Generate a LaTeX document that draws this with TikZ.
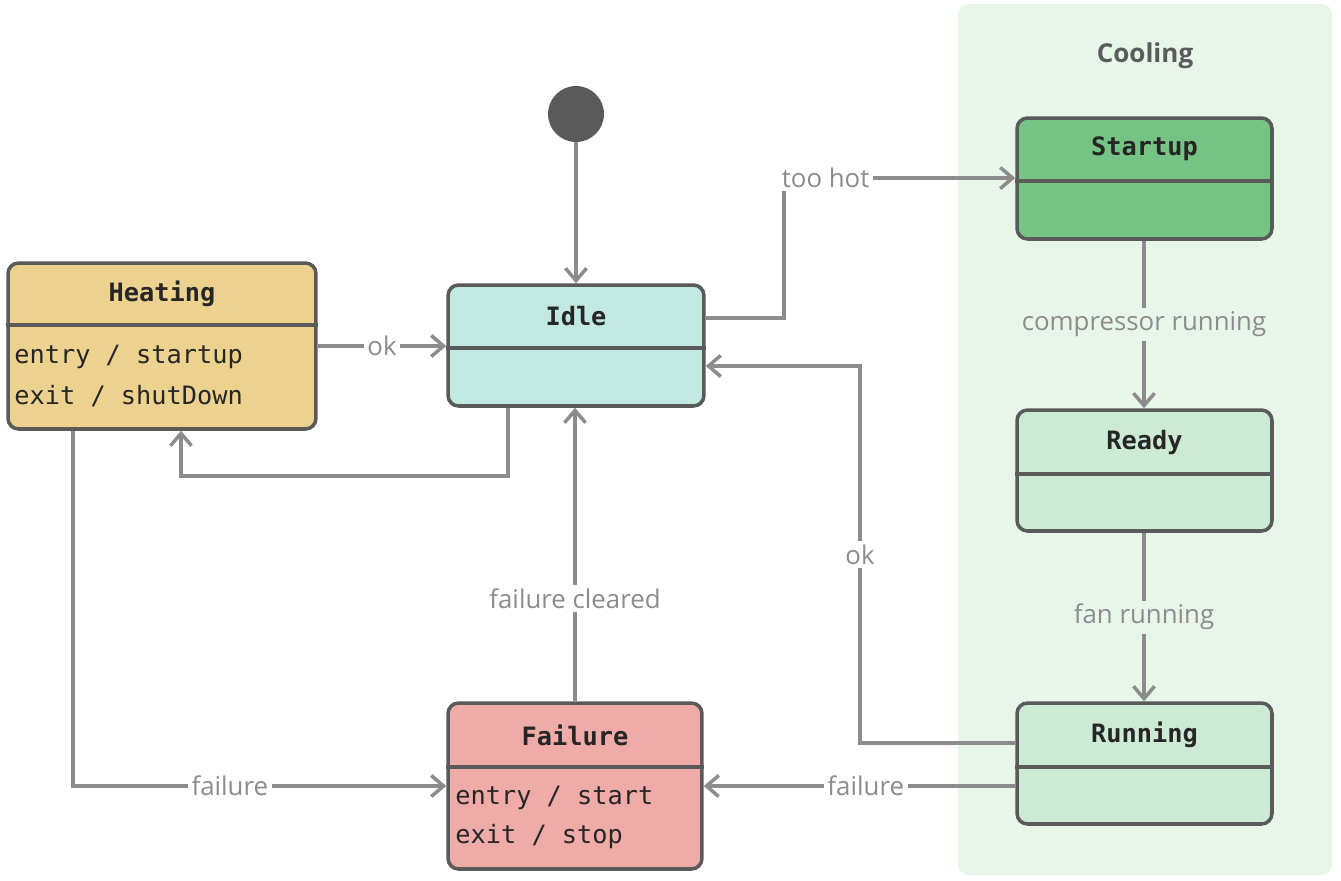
\documentclass[tikz,border=0pt]{standalone}
\usepackage{fontspec}
\setmainfont{Open Sans}
\setmonofont{DejaVu Sans Mono}
\usetikzlibrary{arrows.meta}

\definecolor{linegray}{HTML}{8C8C8C}
\definecolor{bordergray}{HTML}{5A5A5A}
\definecolor{idlefill}{HTML}{C1E9E2}
\definecolor{heatfill}{HTML}{ECD28E}
\definecolor{startfill}{HTML}{76C386}
\definecolor{coolfill}{HTML}{CDEAD4}
\definecolor{failfill}{HTML}{EFABA8}
\definecolor{coolbg}{HTML}{E8F5E9}

\begin{document}
\begin{tikzpicture}[x=0.02cm, y=-0.02cm,
  statebox/.style={draw=bordergray, line width=2pt, rounded corners=6pt, inner sep=0pt},
  divider/.style={draw=bordergray, line width=2pt},
  title/.style={font=\ttfamily\bfseries\fontsize{14.4}{17}\selectfont, text=black!85},
  body/.style={font=\ttfamily\fontsize{14.4}{17}\selectfont, text=black!85, anchor=west, inner sep=0pt},
  flow/.style={draw=linegray, line width=2pt, -{Straight Barb[length=7pt,width=12pt]}},
  lbl/.style={font=\fontsize{14.7}{17}\selectfont, text=linegray, fill=white, inner sep=2pt}]

\useasboundingbox (0,0) rectangle (1341,880);

% cooling region
\fill[coolbg, rounded corners=6pt] (958,4) rectangle (1332,875);
\node[font=\bfseries\fontsize{14.8}{17}\selectfont, text=bordergray] (coolingtitle) at (1145,56) {Cooling};

% initial state
\node[circle, fill=bordergray, minimum size=1.12cm, inner sep=0pt] (init) at (576,114) {};

% states
\node[statebox, fill=idlefill, minimum width=5.12cm, minimum height=2.42cm] (idle) at (576,345.5) {};
\draw[divider] (idle.west |- 0,348) -- (idle.east |- 0,348);
\node[title] (idletitle) at (576,316) {Idle};

\node[statebox, fill=heatfill, minimum width=6.16cm, minimum height=3.32cm] (heating) at (162,346) {};
\draw[divider] (heating.west |- 0,325) -- (heating.east |- 0,325);
\node[title] (heatingtitle) at (162,294) {Heating};
\node[body] (heatentry) at (14,357) {entry / startup};
\node[body] (heatexit) at (14,396) {exit / shutDown};

\node[statebox, fill=failfill, minimum width=5.08cm, minimum height=3.32cm] (failure) at (575,786) {};
\draw[divider] (failure.west |- 0,767) -- (failure.east |- 0,767);
\node[title] (failuretitle) at (575,735) {Failure};
\node[body] (failentry) at (455,798) {entry / start};
\node[body] (failexit) at (455,837) {exit / stop};

\node[statebox, fill=startfill, minimum width=5.1cm, minimum height=2.42cm] (startup) at (1144.5,178.5) {};
\draw[divider] (startup.west |- 0,181) -- (startup.east |- 0,181);
\node[title] (startuptitle) at (1144.5,149) {Startup};

\node[statebox, fill=coolfill, minimum width=5.1cm, minimum height=2.42cm] (ready) at (1144.5,470.5) {};
\draw[divider] (ready.west |- 0,474) -- (ready.east |- 0,474);
\node[title] (readytitle) at (1144.5,442) {Ready};

\node[statebox, fill=coolfill, minimum width=5.1cm, minimum height=2.42cm] (running) at (1144.5,763.5) {};
\draw[divider] (running.west |- 0,767) -- (running.east |- 0,767);
\node[title] (runningtitle) at (1144.5,735) {Running};

% transitions
\draw[flow] (init) -- (idle.north);
\draw[flow] (heating.east) -- node[lbl]{ok} (heating.east -| idle.west);
\draw[flow] (idle.east |- 0,318) -- (784,318) -- (784,178) -- node[lbl, pos=0.18]{too hot} (startup.west |- 0,178);
\draw[flow] (idle.south -| 508,0) -- (508,476) -- (181,476) -- (heating.south -| 181,0);
\draw[flow] (startup.south -| 1144,0) -- node[lbl, fill=coolbg]{compressor running} (ready.north -| 1144,0);
\draw[flow] (ready.south -| 1144,0) -- node[lbl, fill=coolbg]{fan running} (running.north -| 1144,0);
\draw[flow] (running.west |- 0,743) -- (860,743) -- node[lbl]{ok} (860,366) -- (idle.east |- 0,366);
\draw[flow] (running.west |- 0,786) -- node[lbl, pos=0.48]{failure} (failure.east |- 0,786);
\draw[flow] (heating.south -| 73,0) -- (73,786) -- node[lbl, pos=0.42]{failure} (failure.west |- 0,786);
\draw[flow] (failure.north) -- node[lbl, pos=0.35]{failure cleared} (failure.north |- idle.south);

\end{tikzpicture}
\end{document}
